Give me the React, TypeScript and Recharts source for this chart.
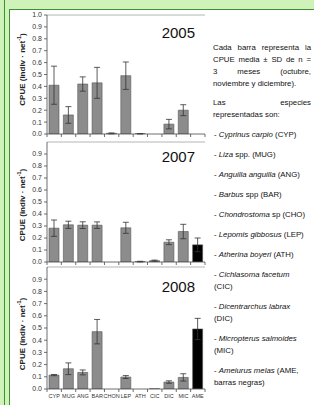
import { Bar, BarChart, Cell, ErrorBar, ReferenceLine, XAxis, YAxis } from "recharts";

const SPECIES = ["CYP", "MUG", "ANG", "BAR", "CHON", "LEP", "ATH", "CIC", "DIC", "MIC", "AME"];

const MEAN_2005 = [0.41, 0.16, 0.42, 0.43, 0.005, 0.49, 0.002, 0, 0.083, 0.2, 0];
const SD_2005 = [0.16, 0.07, 0.06, 0.13, 0.004, 0.115, 0.002, 0, 0.04, 0.046, 0];

const MEAN_2007 = [0.282, 0.31, 0.307, 0.307, 0, 0.285, 0.003, 0.011, 0.165, 0.254, 0.143];
const SD_2007 = [0.068, 0.03, 0.028, 0.027, 0, 0.046, 0.003, 0.005, 0.02, 0.06, 0.057];

const MEAN_2008 = [0.114, 0.166, 0.136, 0.47, 0, 0.098, 0, 0.002, 0.057, 0.095, 0.492];
const SD_2008 = [0.005, 0.048, 0.02, 0.1, 0, 0.012, 0, 0, 0.01, 0.03, 0.087];

const TICKS_FULL = [0, 0.1, 0.2, 0.3, 0.4, 0.5, 0.6, 0.7, 0.8, 0.9, 1.0];
const TICKS_SHORT = [0, 0.1, 0.2, 0.3, 0.4, 0.5, 0.6, 0.7, 0.8, 0.9];

// bars sit at i + 0.5 on a 0..11 numeric axis so tick marks fall between them
const X_TICKS = SPECIES.flatMap((_, i) => [i, i + 0.5]).concat(SPECIES.length);

const GRAY = "#8c8c8c";
const DARK = "#4a4a4a";
const FRAME = "#b4b4b4";
const GREEN_LIGHT = "#cff2b8";
const GREEN_DARK = "#3f8f35";
const FONT = "'Liberation Sans', Arial, Helvetica, sans-serif";

const toRows = (mean: number[], sd: number[]) =>
  SPECIES.map((s, i) => ({ sp: s, x: i + 0.5, v: mean[i], sd: sd[i] }));

function XTick(props: any) {
  const { x, y, payload, showLabel } = props;
  const v = payload.value as number;
  if (Number.isInteger(v)) {
    return <line x1={x} x2={x} y1={y} y2={y + 3} stroke={DARK} strokeWidth={0.8} />;
  }
  if (!showLabel) return null;
  return (
    <text x={x} y={y + 9} textAnchor="middle" fontSize={5.5} fill="#333" fontFamily={FONT}>
      {SPECIES[Math.floor(v)]}
    </text>
  );
}

function yLabel(dy: number) {
  return (props: any) => {
    const vb = props.viewBox;
    const cx = vb.x + 13;
    const cy = vb.y + vb.height / 2 + dy;
    return (
      <text
        x={cx}
        y={cy}
        transform={`rotate(-90 ${cx} ${cy})`}
        textAnchor="middle"
        dominantBaseline="central"
        fontSize={8}
        fontWeight="bold"
        fill="#222"
        fontFamily={FONT}
      >
        CPUE (indiv · net
        <tspan fontSize={5.5} dy={-3}>-1</tspan>
        <tspan dy={3}>)</tspan>
      </text>
    );
  };
}

function Panel({ mean, sd, ticks, top, height, marginTop, xHeight, showLabels, labelDy }: {
  mean: number[];
  sd: number[];
  ticks: number[];
  top: number;
  height: number;
  marginTop: number;
  xHeight: number;
  showLabels: boolean;
  labelDy: number;
}) {
  const data = toRows(mean, sd);
  return (
    <div style={{ position: "absolute", left: 9, top }}>
      <BarChart width={198} height={height} data={data} margin={{ top: marginTop, right: 2, bottom: 0, left: 0 }}>
        <XAxis
          dataKey="x"
          type="number"
          domain={[0, SPECIES.length]}
          ticks={X_TICKS}
          interval={0}
          height={xHeight}
          tickSize={0}
          tickMargin={0}
          tickLine={false}
          axisLine={{ stroke: DARK, strokeWidth: 0.8 }}
          tick={<XTick showLabel={showLabels} />}
        />
        <YAxis
          domain={[0, 1]}
          ticks={ticks}
          interval={0}
          width={38}
          tickSize={3}
          tickMargin={2}
          tickLine={{ stroke: DARK, strokeWidth: 0.8 }}
          axisLine={{ stroke: DARK, strokeWidth: 0.8 }}
          tick={{ fontSize: 7, fill: "#333", fontFamily: FONT }}
          tickFormatter={(v: number) => v.toFixed(1)}
          allowDataOverflow
          label={{ content: yLabel(labelDy) }}
        />
        <YAxis yAxisId="r" orientation="right" domain={[0, 1]} width={0} tick={false} tickLine={false} axisLine={{ stroke: FRAME }} />
        <ReferenceLine y={1} stroke={FRAME} ifOverflow="visible" />
        <Bar dataKey="v" barSize={10} stroke="#555" strokeWidth={0.6} isAnimationActive={false}>
          {data.map((d) => (
            <Cell key={d.sp} fill={d.sp === "AME" ? "#000" : GRAY} />
          ))}
          <ErrorBar dataKey="sd" width={3} stroke="#333" strokeWidth={0.8} direction="y" />
        </Bar>
      </BarChart>
    </div>
  );
}

const yearStyle = {
  position: "absolute" as const,
  left: 150,
  width: 45,
  textAlign: "right" as const,
  fontFamily: FONT,
  fontSize: 15,
  lineHeight: "15px",
  color: "#111",
};

const just = { textAlign: "justify" as const, textAlignLast: "justify" as const, height: 12 };
const plain = { height: 12 };
const item = { marginTop: 8, paddingLeft: 1 };

export default function App() {
  return (
    <div style={{ position: "absolute", left: 0, top: 0, width: 314, height: 405, background: "#fff", overflow: "hidden" }}>
      {/* green slide frame */}
      <div style={{ position: "absolute", left: 0, top: 0, width: 314, height: 9, background: GREEN_LIGHT }} />
      <div style={{ position: "absolute", left: 0, top: 0, width: 9, height: 405, background: GREEN_LIGHT }} />
      <div style={{ position: "absolute", left: 4, top: 0, width: 1, height: 405, background: GREEN_DARK }} />
      <div style={{ position: "absolute", left: 9, top: 9, width: 1, height: 396, background: GREEN_DARK }} />
      <div style={{ position: "absolute", left: 9, top: 9, width: 305, height: 1, background: GREEN_DARK }} />

      <Panel mean={MEAN_2005} sd={SD_2005} ticks={TICKS_FULL} top={0} height={140} marginTop={15} xHeight={6} showLabels={false} labelDy={-5} />
      <Panel mean={MEAN_2007} sd={SD_2007} ticks={TICKS_SHORT} top={138} height={130} marginTop={4} xHeight={6} showLabels={false} labelDy={3} />
      <Panel mean={MEAN_2008} sd={SD_2008} ticks={TICKS_SHORT} top={263} height={140} marginTop={4} xHeight={14} showLabels labelDy={6} />

      <div style={{ ...yearStyle, top: 25 }}>2005</div>
      <div style={{ ...yearStyle, top: 149 }}>2007</div>
      <div style={{ ...yearStyle, top: 279 }}>2008</div>

      <div style={{ position: "absolute", left: 213, top: 42, width: 98, fontFamily: FONT, fontSize: 7.8, lineHeight: "12px", color: "#111" }}>
        <div style={just}>Cada barra representa la</div>
        <div style={just}>CPUE media ± SD de n =</div>
        <div style={just}>3 meses (octubre,</div>
        <div style={plain}>noviembre y diciembre).</div>
        <div style={{ ...just, marginTop: 7 }}>Las especies</div>
        <div style={plain}>representadas son:</div>
        <div style={item}>- <i>Cyprinus carpio</i> (CYP)</div>
        <div style={item}>- <i>Liza</i> spp. (MUG)</div>
        <div style={item}>- <i>Anguilla anguilla</i> (ANG)</div>
        <div style={item}>- <i>Barbus</i> spp (BAR)</div>
        <div style={item}>- <i>Chondrostoma</i> sp (CHO)</div>
        <div style={item}>- <i>Lepomis gibbosus</i> (LEP)</div>
        <div style={item}>- <i>Atherina boyeri</i> (ATH)</div>
        <div style={item}>- <i>Cichlasoma facetum</i><br />(CIC)</div>
        <div style={item}>- <i>Dicentrarchus labrax</i><br />(DIC)</div>
        <div style={item}>- <i>Micropterus salmoides</i><br />(MIC)</div>
        <div style={item}>- <i>Ameiurus melas</i> (AME,<br />barras negras)</div>
      </div>
    </div>
  );
}
